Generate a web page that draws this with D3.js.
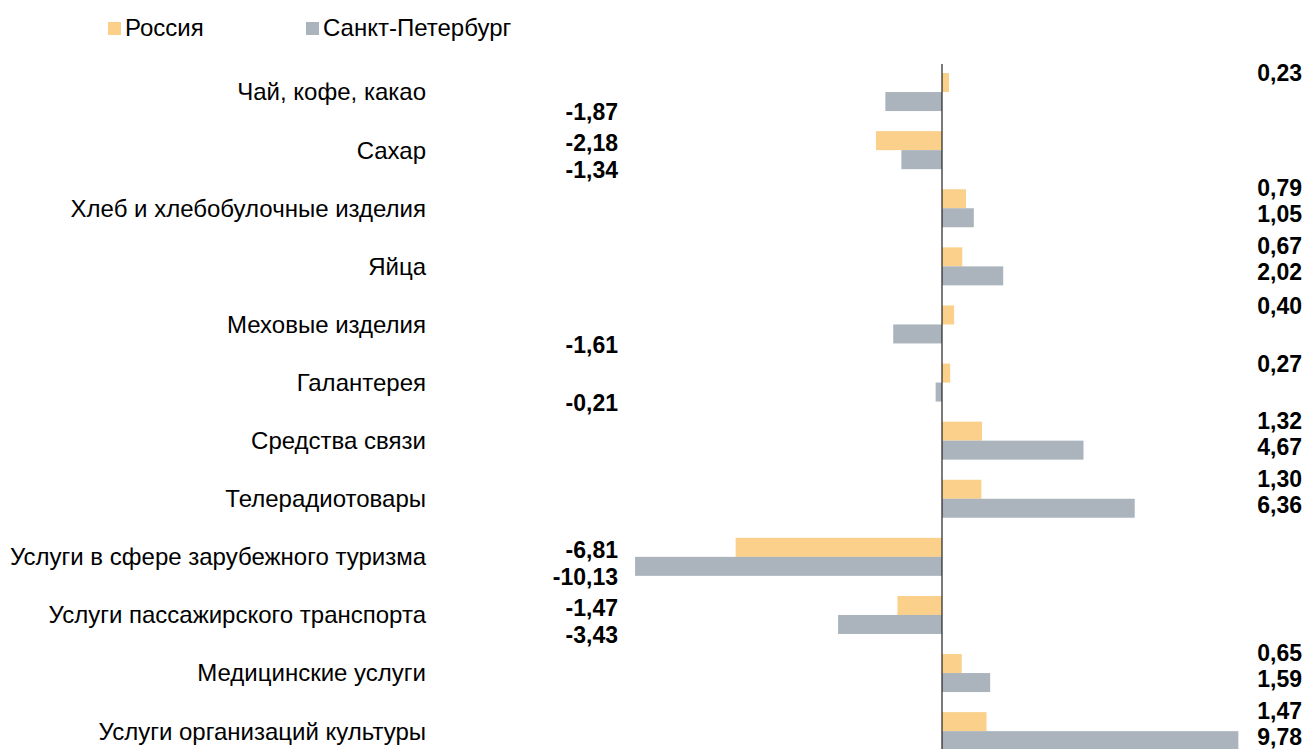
<!DOCTYPE html>
<html>
<head>
<meta charset="utf-8">
<script src="https://cdn.jsdelivr.net/npm/d3@7"></script>
<style>
  body { margin: 0; background: #fff; }
  text { font-family: "Liberation Sans", Arial, sans-serif; fill: #000; }
</style>
</head>
<body>
<div id="chart"></div>
<script>
const WIDTH = 1311, HEIGHT = 749;

// data
const categories = [
    "Чай, кофе, какао", "Сахар", "Хлеб и хлебобулочные изделия", "Яйца",
    "Меховые изделия", "Галантерея", "Средства связи", "Телерадиотовары",
    "Услуги в сфере зарубежного туризма", "Услуги пассажирского транспорта",
    "Медицинские услуги", "Услуги организаций культуры"
];
const russia = [0.23, -2.18, 0.79, 0.67, 0.40, 0.27, 1.32, 1.30, -6.81, -1.47, 0.65, 1.47];
const spb = [-1.87, -1.34, 1.05, 2.02, -1.61, -0.21, 4.67, 6.36, -10.13, -3.43, 1.59, 9.78];
const seriesNames = ["Россия", "Санкт-Петербург"];
const colors = ["#FAD08A", "#ABB4BD"];

const BAR_H = 19;
const LABEL_POS_X = 1302, LABEL_NEG_X = 618, CAT_X = 426;

const svg = d3.select("#chart")
    .append("svg")
    .attr("width", WIDTH)
    .attr("height", HEIGHT);

let x = d3.scaleLinear()
    .domain([-11, 11])
    .range([942 - 11 * 30.3, 942 + 11 * 30.3]);
let y = d3.scaleBand()
    .domain(categories)
    .range([63, 63 + 58.1 * categories.length]);

const rows = categories.map((c, i) => ({ cat: c, r: russia[i], s: spb[i] }));

// bars
const g = svg.append("g");
g.selectAll("rect.ru")
    .data(rows)
    .join("rect")
    .attr("class", "ru")
    .attr("x", d => x(Math.min(0, d.r)))
    .attr("width", d => Math.abs(x(d.r) - x(0)))
    .attr("y", d => y(d.cat) + y.bandwidth() / 2 - BAR_H)
    .attr("height", BAR_H)
    .attr("fill", colors[0]);
g.selectAll("rect.sp")
    .data(rows)
    .join("rect")
    .attr("class", "sp")
    .attr("x", d => x(Math.min(0, d.s)))
    .attr("width", d => Math.abs(x(d.s) - x(0)))
    .attr("y", d => y(d.cat) + y.bandwidth() / 2)
    .attr("height", BAR_H)
    .attr("fill", colors[1]);

// zero line
svg.append("line")
    .attr("x1", x(0)).attr("x2", x(0))
    .attr("y1", 64).attr("y2", HEIGHT)
    .attr("stroke", "#222")
    .attr("stroke-width", 1.2);

// category labels
svg.selectAll("text.cat")
    .data(rows)
    .join("text")
    .attr("class", "cat")
    .attr("x", CAT_X)
    .attr("y", d => y(d.cat) + y.bandwidth() / 2)
    .attr("dy", "0.35em")
    .attr("text-anchor", "end")
    .style("font-size", "24px")
    .text(d => d.cat);

// value labels, nudged so the pair never collides
function fmt(v) { return v.toFixed(2).replace(".", ","); }
function offsets(d) {
    if (d.r < 0 && d.s < 0) return [-7, 20];
    if ((d.r < 0) !== (d.s < 0)) return [-19, 20];
    return [-20, 6];
}
const labels = [];
rows.forEach(d => {
    const off = offsets(d);
    const c = y(d.cat) + y.bandwidth() / 2;
    labels.push({ v: d.r, y: c + off[0] });
    labels.push({ v: d.s, y: c + off[1] });
});
svg.selectAll("text.val")
    .data(labels)
    .join("text")
    .attr("class", "val")
    .attr("x", d => d.v < 0 ? LABEL_NEG_X : LABEL_POS_X)
    .attr("y", d => d.y)
    .attr("dy", "0.35em")
    .attr("text-anchor", "end")
    .style("font-size", "23px")
    .style("font-weight", "bold")
    .text(d => fmt(d.v));

// legend
const legendX = [108, 306];
const leg = svg.selectAll("g.leg")
    .data(seriesNames)
    .join("g")
    .attr("class", "leg")
    .attr("transform", (d, i) => "translate(" + legendX[i] + ",22)");
leg.append("rect")
    .attr("width", 13).attr("height", 13)
    .attr("fill", (d, i) => colors[i]);
leg.append("text")
    .attr("x", 17).attr("y", 6)
    .attr("dy", "0.35em")
    .style("font-size", "24px")
    .text(d => d);
</script>
</body>
</html>
